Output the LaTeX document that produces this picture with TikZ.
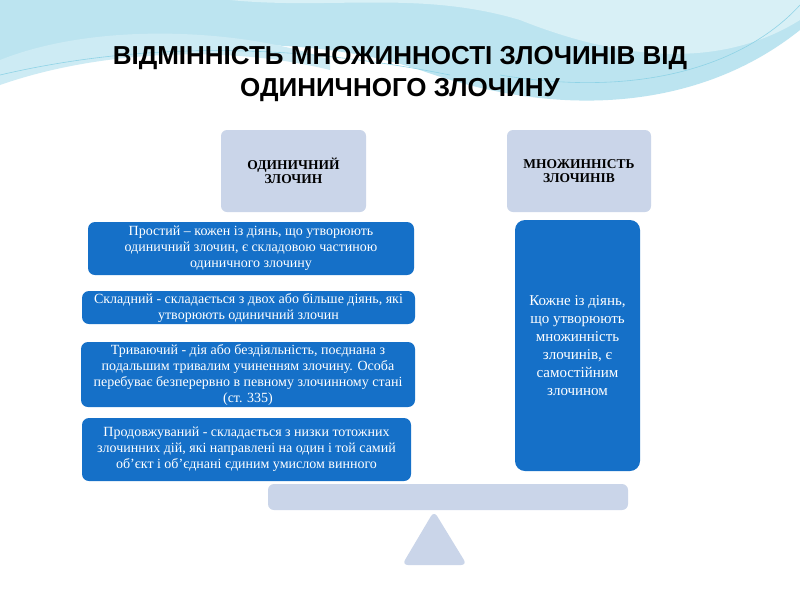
\documentclass[tikz,border=0pt]{standalone}
\usepackage{fontspec}
\setmainfont{Liberation Serif}
\newfontfamily\titlefont{Liberation Sans}
\begin{document}
\begin{tikzpicture}[x=1pt,y=-1pt,
  pale/.style={fill=pale,rounded corners=6pt,font=\fontsize{13.5}{14}\selectfont\bfseries,text=black,align=center},
  blu/.style={fill=blu,rounded corners=7pt,text=white,align=center,font=\fontsize{14}{16}\selectfont,inner sep=0pt},
  ]
\definecolor{pale}{HTML}{CAD5E9}
\definecolor{blu}{HTML}{1570C8}
\definecolor{sky}{HTML}{8FD3E6}
\useasboundingbox (0,0) rectangle (800,600);
\fill[white] (0,0) rectangle (800,600);
% background swoosh
\fill[sky!60] (0,0) -- (800,0) -- (800,30) .. controls (700,110) and (560,120) .. (420,70) .. controls (300,30) and (120,40) .. (0,80) -- cycle;
\fill[sky!35] (230,0) -- (800,0) -- (800,20) .. controls (720,70) and (620,60) .. (520,20) .. controls (420,-10) and (330,10) .. (230,0);
\fill[sky!45] (0,60) .. controls (100,20) and (250,30) .. (330,60) -- (330,70) .. controls (230,45) and (100,50) .. (0,85) -- cycle;
\draw[sky,line width=0.6pt] (0,75) .. controls (150,40) and (300,45) .. (450,75);
\draw[sky,line width=0.6pt] (500,75) .. controls (650,100) and (750,60) .. (800,5);
\node[font=\titlefont\bfseries\fontsize{26}{32}\selectfont,align=center,text=black,xscale=1.0] (title) at (400,74) {ВІДМІННІСТЬ МНОЖИННОСТІ ЗЛОЧИНІВ ВІД\\ОДИНИЧНОГО ЗЛОЧИНУ};
\node[pale,minimum width=145,minimum height=82] (od) at (293.5,171) {ОДИНИЧНИЙ\\ЗЛОЧИН};
\node[pale,minimum width=144,minimum height=82] (mn) at (579,171) {МНОЖИННІСТЬ\\ЗЛОЧИНІВ};
\node[blu,minimum width=326,minimum height=53] (b1) at (251,248.5) {Простий – кожен із діянь, що утворюють\\одиничний злочин, є складовою частиною\\одиничного злочину};
\node[blu,minimum width=333,minimum height=33] (b2) at (248.5,307.5) {Складний - складається з двох або більше діянь, які\\утворюють одиничний злочин};
\node[blu,minimum width=334,minimum height=65] (b3) at (248,374.5) {Триваючий - дія або бездіяльність, поєднана з\\подальшим тривалим учиненням злочину. Особа\\перебуває безперервно в певному злочинному стані\\(ст. 335)};
\node[blu,minimum width=329,minimum height=63] (b4) at (246.5,449.5) {Продовжуваний - складається з низки тотожних\\злочинних дій, які направлені на один і той самий\\об’єкт і об’єднані єдиним умислом винного};
\node[blu,minimum width=125,minimum height=251,rounded corners=10pt,font=\fontsize{15}{18}\selectfont] (r) at (577.5,345.5) {Кожне із діянь,\\що утворюють\\множинність\\злочинів, є\\самостійним\\злочином};
\fill[pale] (268,484) rectangle (628,510);
\fill[pale] (434,511) -- (467,565) -- (402,565) -- cycle;
\end{tikzpicture}
\end{document}
